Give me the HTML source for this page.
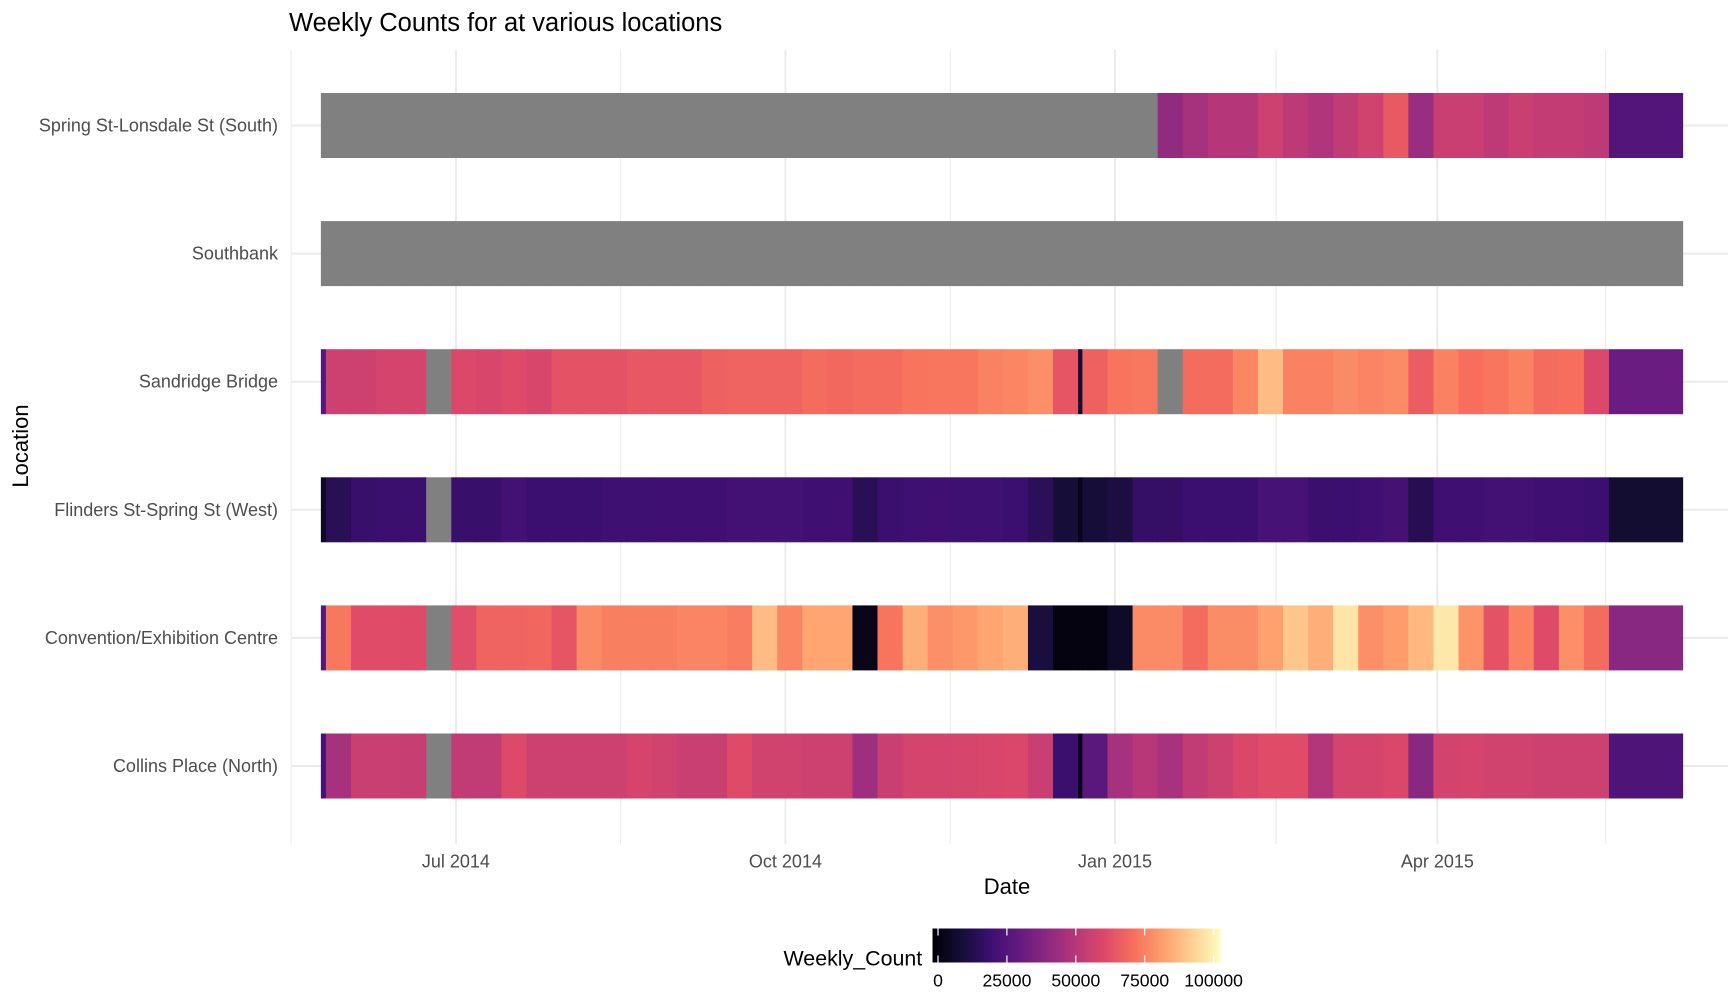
<!DOCTYPE html>
<html><head><meta charset="utf-8"><style>
html,body{margin:0;padding:0;background:#fff;}
svg{display:block;font-family:"Liberation Sans",Arial,sans-serif;}
</style></head><body>
<svg id="chart" width="1728" height="1008" viewBox="0 0 1728 1008">
<defs><linearGradient id="magma" x1="0" x2="1" y1="0" y2="0"></linearGradient></defs>
<text x="289" y="31" font-size="25.5" fill="#000">Weekly Counts for at various locations</text>
<g id="grid"></g>
<g id="tiles"></g>
<g id="axes"></g>
<text x="1007" y="894" font-size="22" text-anchor="middle" fill="#000">Date</text>
<text transform="translate(28,446) rotate(-90)" font-size="22" text-anchor="middle" fill="#000">Location</text>
<g id="legend" transform="translate(-4.5,-5.5)">
<text x="788" y="971" font-size="21.4" fill="#000">Weekly_Count</text>
<rect x="937" y="934" width="288" height="34" fill="url(#magma)"></rect>
</g>
</svg>
<script>
// ---- data ----
const locations = ["Spring St-Lonsdale St (South)","Southbank","Sandridge Bridge","Flinders St-Spring St (West)","Convention/Exhibition Centre","Collins Place (North)"];
const N = null;
const springVals = [N, N,N,N,N,N,N,N,N,N,N,N,N,N,N,N,N,N,N,N,N,N,N,N,N,N,N,N,N,N,N, N, N,N,N,41,46,50,50,56,52,48.5,53,57,65,43,55,55,52,55,53.5,53.5,52, 25];
const southbankVals = [N, N,N,N,N,N,N,N,N,N,N,N,N,N,N,N,N,N,N,N,N,N,N,N,N,N,N,N,N,N,N, N, N,N,N,N,N,N,N,N,N,N,N,N,N,N,N,N,N,N,N,N,N, N];
const sandridgeVals = [26, 56,56,58,58,N,60,59,61,59,63,63,63,64.5,64.5,64.5,67,68,68,68,70,69,70,70,72,72.5,72.5,75,76,78,64, 8, 67,72,73,N,70,70,76,88,75,75,77,75.5,77,66,75,71,72.5,75,70,71,60, 31];
const flindersVals = [5, 14,18,18.5,18.5,N,18,18,21,19,19,19,19.5,19.5,20,20,20,21,21,21,20,20,14,18.5,19.5,20,19.5,19.5,19,14.5,9, 2, 9,10.5,17,17,19,19,19,22,22,18.5,19,20,21.5,13.5,20,20,21,21,20,20,19, 7.5];
const conventionVals = [26, 73,61.5,61.5,61,N,62,68,68,68.5,64,77,74.5,74.5,74.5,75.5,75.5,74,88,76,83,83,2.5,72,85,78,80,83,85,10,0.5, 0.5, 0.5,5.5,77,77,70,77.5,77.5,82,90,85,97,78,81,87,97.5,79,63,75,61,78,70, 39];
const collinsVals = [22, 46,55,55,54.5,N,53,53,60.5,56,56,56,56,58,57,55,55,61,57,57,56,56,44,55,58,58,58.5,59,59.5,55,18.5, 2, 27,46,50.5,46.5,53,56,59.5,61.5,61.5,49.5,58,58,59.5,39,57.5,58,57,57,56,56,56, 24];
const seriesVals = [springVals, southbankVals, sandridgeVals, flindersVals, conventionVals, collinsVals];
// tile periods as day offsets relative to 2015-01-01
const tileStartDays = [-221.7].concat(Array.from({length:30},(_, i)=>-220.3+7*i), [-10.3], Array.from({length:21},(_, i)=>-9.1+7*i), [137.9]);
const tileEndDays = tileStartDays.slice(1).concat([158.5]);
const majorBreakDays = [-184,-92,0,90];
const majorBreakLabels = ["Jul 2014","Oct 2014","Jan 2015","Apr 2015"];
const minorBreakDays = [-230,-138,-46,45,137];
const legendTicks = [0,25000,50000,75000,100000];
const colorMin = -2000, colorMax = 102500;

// ---- scales ----
const xScale = d => 1115 + d*3.582;
const yCenter = i => 125.5 + i*128.1;
const rowH = 65;
const magmaStops = ["#000004","#140e36","#3b0f70","#641a80","#8c2981","#b73779","#de4968","#f7705c","#fe9f6d","#fecf92","#fcfdbf"];
function hex(c){return [1,3,5].map(k=>parseInt(c.substr(k,2),16));}
function magma(t){t=Math.max(0,Math.min(1,t));const p=t*10,i=Math.min(9,Math.floor(p)),f=p-i;const a=hex(magmaStops[i]),b=hex(magmaStops[i+1]);return "rgb("+a.map((v,k)=>Math.round(v+(b[k]-v)*f)).join(",")+")";}
const colorOf = v => v===null ? "#808080" : magma((v*1000-colorMin)/(colorMax-colorMin));
const NS="http://www.w3.org/2000/svg";
function mk(tag,attrs,parent){const e=document.createElementNS(NS,tag);for(const k in attrs)e.setAttribute(k,attrs[k]);parent.appendChild(e);return e;}

// gradient
const grad=document.getElementById("magma");
magmaStops.forEach((c,i)=>{mk("stop",{offset:(i*10)+"%","stop-color":c},grad);});

// grid
const grid=document.getElementById("grid");
minorBreakDays.forEach(d=>{const l=mk("line",{x1:xScale(d),x2:xScale(d),y1:50,y2:844,stroke:"#ebebeb","stroke-width":1},grid);

});
majorBreakDays.forEach(d=>{const l=mk("line",{x1:xScale(d),x2:xScale(d),y1:50,y2:844,stroke:"#ebebeb","stroke-width":2},grid);

});
locations.forEach((n,i)=>{const l=mk("line",{x1:292,x2:1728,y1:yCenter(i),y2:yCenter(i),stroke:"#ebebeb","stroke-width":2},grid);

});

// tiles
const tg=document.getElementById("tiles");
seriesVals.forEach((vals,r)=>{
  vals.forEach((v,i)=>{
    const x0=xScale(tileStartDays[i]),x1=xScale(tileEndDays[i]);
    const rc=mk("rect",{x:x0.toFixed(2),y:(yCenter(r)-rowH/2).toFixed(2),width:(x1-x0+0.4).toFixed(2),height:rowH,fill:colorOf(v)},tg);
    
    
  });
});

// axes labels
const ax=document.getElementById("axes");
locations.forEach((n,i)=>{const t=mk("text",{x:278,y:yCenter(i)+6,"font-size":18,"text-anchor":"end",fill:"#4d4d4d"},ax);t.textContent=n;

});
majorBreakDays.forEach((d,i)=>{const t=mk("text",{x:xScale(d),y:867.5,"font-size":18,"text-anchor":"middle",fill:"#4d4d4d"},ax);t.textContent=majorBreakLabels[i];

});

// legend ticks
const lg=document.getElementById("legend");
const lx=v=>937+(v-colorMin)/(colorMax-colorMin)*288;
legendTicks.forEach(v=>{
  const a=mk("line",{x1:lx(v),x2:lx(v),y1:934,y2:941,stroke:"#fff","stroke-width":1.2},lg);
  
  
  const b=mk("line",{x1:lx(v),x2:lx(v),y1:961,y2:968,stroke:"#fff","stroke-width":1.2},lg);
  
  
  const t=mk("text",{x:lx(v),y:992,"font-size":17.6,"text-anchor":"middle",fill:"#000"},lg);t.textContent=String(v);
  
  
});
</script>
</body></html>
